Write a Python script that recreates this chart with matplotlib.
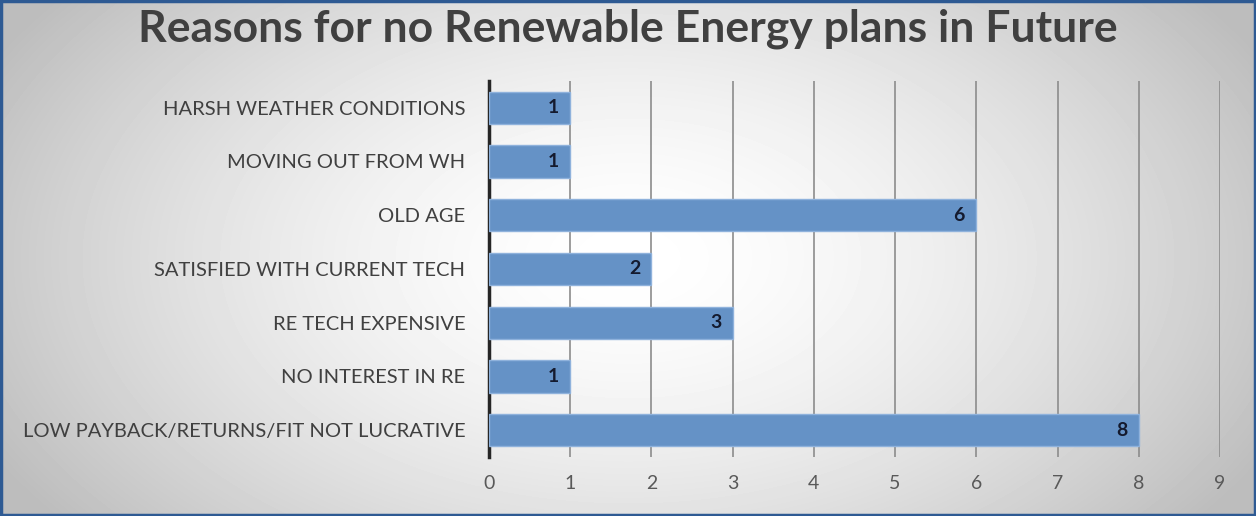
import numpy as np
import matplotlib
matplotlib.use('Agg')
import matplotlib.pyplot as plt

categories = ['LOW PAYBACK/RETURNS/FIT NOT LUCRATIVE', 'NO INTEREST IN RE', 'RE TECH EXPENSIVE',
              'SATISFIED WITH CURRENT TECH', 'OLD AGE', 'MOVING OUT FROM WH', 'HARSH WEATHER CONDITIONS']
counts = [8, 1, 3, 2, 6, 1, 1]
ticks = list(range(0, 10))

plt.rcParams['font.family'] = ['Lato', 'DejaVu Sans']

fig = plt.figure(figsize=(12.56, 5.16), dpi=100)

# radial gradient background
bg = fig.add_axes([0, 0, 1, 1])
yy, xx = np.mgrid[0:516, 0:1256]
r = np.sqrt(((xx - 628) / 700.0) ** 2 + ((yy - 258) / 420.0) ** 2)
shade = np.clip(1.0 - 0.25 * r ** 1.6, 0.74, 1.0)
bg.imshow(shade, cmap='gray', vmin=0, vmax=1, aspect='auto', extent=[0, 1, 0, 1])
bg.set_xlim(0, 1)
bg.set_ylim(0, 1)
bg.axis('off')
fig.patches.append(plt.Rectangle((0.001, 0.002), 0.998, 0.996, transform=fig.transFigure,
                                 fill=False, edgecolor='#2e5a93', linewidth=2.5))

ax = fig.add_axes([0.3893, 0.1143, 0.582, 0.729])
ax.patch.set_alpha(0)
y = np.arange(len(categories))
ax.barh(y, counts, height=0.6, color='#6592c6', edgecolor='#8fb2dc', linewidth=1, zorder=3)
for yi, v in zip(y, counts):
    ax.text(v - 0.14, yi, str(v), ha='right', va='center', fontsize=14, fontweight='bold',
            color='#141a2e', zorder=4)

ax.set_xlim(0, 9)
ax.set_ylim(-0.5, len(categories) - 0.5)
ax.set_xticks(ticks)
ax.set_yticks(y)
ax.set_yticklabels(categories, fontsize=14.5, color='#404040')
ax.tick_params(axis='x', length=0, pad=13, labelsize=14, labelcolor='#595959')
ax.tick_params(axis='y', length=0, pad=17)
ax.grid(axis='x', color='#8c8c8c', linewidth=1.2, zorder=1)
for side in ['top', 'right', 'bottom']:
    ax.spines[side].set_visible(False)
ax.spines['left'].set_color('#262626')
ax.spines['left'].set_linewidth(2.5)

fig.text(0.5, 0.945, 'Reasons for no Renewable Energy plans in Future', ha='center', va='center',
         fontsize=32, fontweight='bold', color='#404040')

fig.savefig('out.png', dpi=100)
